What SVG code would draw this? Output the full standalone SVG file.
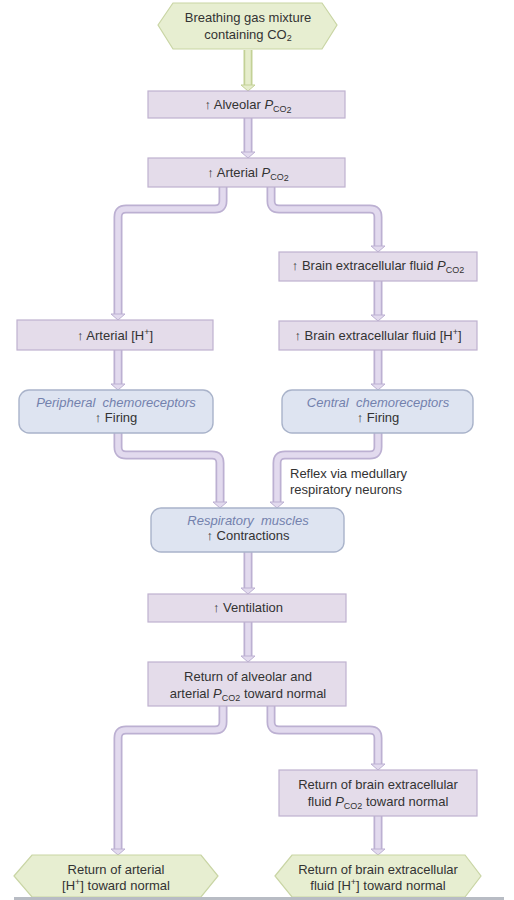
<svg xmlns="http://www.w3.org/2000/svg" width="514" height="900" viewBox="0 0 514 900">
<style>
.box{fill:#e4dcea;stroke:#bfb1cf;stroke-width:1.2}
.rbox{fill:#dee4f1;stroke:#a9b3ca;stroke-width:1.4}
.hex{fill:#e7eed1;stroke:#c9d5a4;stroke-width:1.2}
.po{fill:none;stroke:#bcb0d2;stroke-width:9;stroke-linejoin:round}
.pi{fill:none;stroke:#e2daee;stroke-width:5.5;stroke-linejoin:round}
.go{fill:none;stroke:#c3d196;stroke-width:9}
.gi{fill:none;stroke:#e6edcc;stroke-width:5.5}
.ah{fill:#e2daee;stroke:#bcb0d2;stroke-width:1}
.gah{fill:#e6edcc;stroke:#c3d196;stroke-width:1}
text{font-family:"Liberation Sans",Arial,sans-serif;font-size:13px;fill:#333;text-anchor:middle}
.it{font-style:italic;fill:#7381ad;white-space:pre}
.l{text-anchor:start}
.sub{font-size:9px}
</style>
<rect width="514" height="900" fill="#fff"/>
<g id="connectors">
<path class="go" d="M248 50V87"/><path class="gi" d="M248 50V87"/>
<polygon class="gah" points="241,85 255,85 248,91"/>
<path class="po" d="M248 118V154 M248 552V590 M248 622V658 M378 281V317 M118 350V386 M378 350V386 M378 816V851"/>
<path class="po" d="M223 187V201Q223 209 215 209H126Q118 209 118 217V316"/>
<path class="po" d="M271 187V201Q271 209 279 209H370Q378 209 378 217V248"/>
<path class="po" d="M118 433V447Q118 455 126 455H212Q220 455 220 463V504"/>
<path class="po" d="M378 433V447Q378 455 370 455H285Q277 455 277 463V504"/>
<path class="po" d="M223 706V722Q223 730 215 730H126Q118 730 118 738V851"/>
<path class="po" d="M271 706V722Q271 730 279 730H370Q378 730 378 738V766"/>
<path class="pi" d="M248 118V154 M248 552V590 M248 622V658 M378 281V317 M118 350V386 M378 350V386 M378 816V851"/>
<path class="pi" d="M223 187V201Q223 209 215 209H126Q118 209 118 217V316"/>
<path class="pi" d="M271 187V201Q271 209 279 209H370Q378 209 378 217V248"/>
<path class="pi" d="M118 433V447Q118 455 126 455H212Q220 455 220 463V504"/>
<path class="pi" d="M378 433V447Q378 455 370 455H285Q277 455 277 463V504"/>
<path class="pi" d="M223 706V722Q223 730 215 730H126Q118 730 118 738V851"/>
<path class="pi" d="M271 706V722Q271 730 279 730H370Q378 730 378 738V766"/>
<polygon class="ah" points="241,152 255,152 248,158"/>
<polygon class="ah" points="111,314 125,314 118,320"/>
<polygon class="ah" points="371,246 385,246 378,252"/>
<polygon class="ah" points="371,315 385,315 378,321"/>
<polygon class="ah" points="111,384 125,384 118,390"/>
<polygon class="ah" points="371,384 385,384 378,390"/>
<polygon class="ah" points="213,502 227,502 220,508"/>
<polygon class="ah" points="270,502 284,502 277,508"/>
<polygon class="ah" points="241,588 255,588 248,594"/>
<polygon class="ah" points="241,656 255,656 248,662"/>
<polygon class="ah" points="111,849 125,849 118,855"/>
<polygon class="ah" points="371,764 385,764 378,770"/>
<polygon class="ah" points="371,849 385,849 378,855"/>
</g>
<g id="n-breathing"><polygon class="hex" points="158,25 173,3 322,3 337,25 322,49 173,49"/>
<text x="248" y="22">Breathing gas mixture</text>
<text x="248" y="39">containing CO<tspan class="sub" dy="2">2</tspan></text></g>
<g id="n-alveolar"><rect class="box" x="148" y="91" width="197" height="27"/>
<text x="248" y="109">↑ Alveolar <tspan font-style="italic">P</tspan><tspan class="sub" dy="3">CO</tspan><tspan class="sub" dy="1" font-size="7px">2</tspan></text></g>
<g id="n-arterial"><rect class="box" x="148" y="158" width="197" height="29"/>
<text x="248" y="177">↑ Arterial <tspan font-style="italic">P</tspan><tspan class="sub" dy="3">CO</tspan><tspan class="sub" dy="1" font-size="7px">2</tspan></text></g>
<g id="n-brain-pco2"><rect class="box" x="279" y="252" width="198" height="29"/>
<text x="378" y="270">↑ Brain extracellular fluid <tspan font-style="italic">P</tspan><tspan class="sub" dy="3">CO2</tspan></text></g>
<g id="n-arterial-h"><rect class="box" x="17" y="320" width="196" height="30"/>
<text x="115" y="340">↑ Arterial [H<tspan class="sub" dy="-5">+</tspan><tspan dy="5">]</tspan></text></g>
<g id="n-brain-h"><rect class="box" x="279" y="321" width="198" height="29"/>
<text x="378" y="340">↑ Brain extracellular fluid [H<tspan class="sub" dy="-5">+</tspan><tspan dy="5">]</tspan></text></g>
<g id="n-peripheral"><rect class="rbox" x="19" y="390" width="194" height="43" rx="10"/>
<text x="116" y="407" class="it">Peripheral  chemoreceptors</text>
<text x="116" y="422">↑ Firing</text></g>
<g id="n-central"><rect class="rbox" x="282" y="390" width="191" height="43" rx="10"/>
<text x="378" y="407" class="it">Central  chemoreceptors</text>
<text x="378" y="422">↑ Firing</text></g>
<g id="n-reflex-label"><text class="l" x="290" y="478">Reflex via medullary</text>
<text class="l" x="290" y="494">respiratory neurons</text></g>
<g id="n-respiratory"><rect class="rbox" x="151" y="508" width="193" height="44" rx="10"/>
<text x="248" y="525" class="it">Respiratory  muscles</text>
<text x="248" y="540">↑ Contractions</text></g>
<g id="n-ventilation"><rect class="box" x="148" y="594" width="198" height="28"/>
<text x="248" y="612">↑ Ventilation</text></g>
<g id="n-return-alv"><rect class="box" x="148" y="662" width="198" height="44"/>
<text x="248" y="681">Return of alveolar and</text>
<text x="248" y="698">arterial <tspan font-style="italic">P</tspan><tspan class="sub" dy="3">CO2</tspan><tspan dy="-3"> toward normal</tspan></text></g>
<g id="n-return-brain-pco2"><rect class="box" x="279" y="770" width="198" height="46"/>
<text x="378" y="789">Return of brain extracellular</text>
<text x="378" y="806">fluid <tspan font-style="italic">P</tspan><tspan class="sub" dy="3">CO2</tspan><tspan dy="-3"> toward normal</tspan></text></g>
<g id="n-return-art-h"><polygon class="hex" points="14,876 32,855 201,855 218,876 201,897 32,897"/>
<text x="116" y="874">Return of arterial</text>
<text x="116" y="890">[H<tspan class="sub" dy="-5">+</tspan><tspan dy="5">] toward normal</tspan></text></g>
<g id="n-return-brain-h"><polygon class="hex" points="275,876 292,855 465,855 481,876 465,897 292,897"/>
<text x="378" y="874">Return of brain extracellular</text>
<text x="378" y="890">fluid [H<tspan class="sub" dy="-5">+</tspan><tspan dy="5">] toward normal</tspan></text></g>
<rect x="14" y="897" width="490" height="3" fill="#b8bcc4"/>
</svg>
